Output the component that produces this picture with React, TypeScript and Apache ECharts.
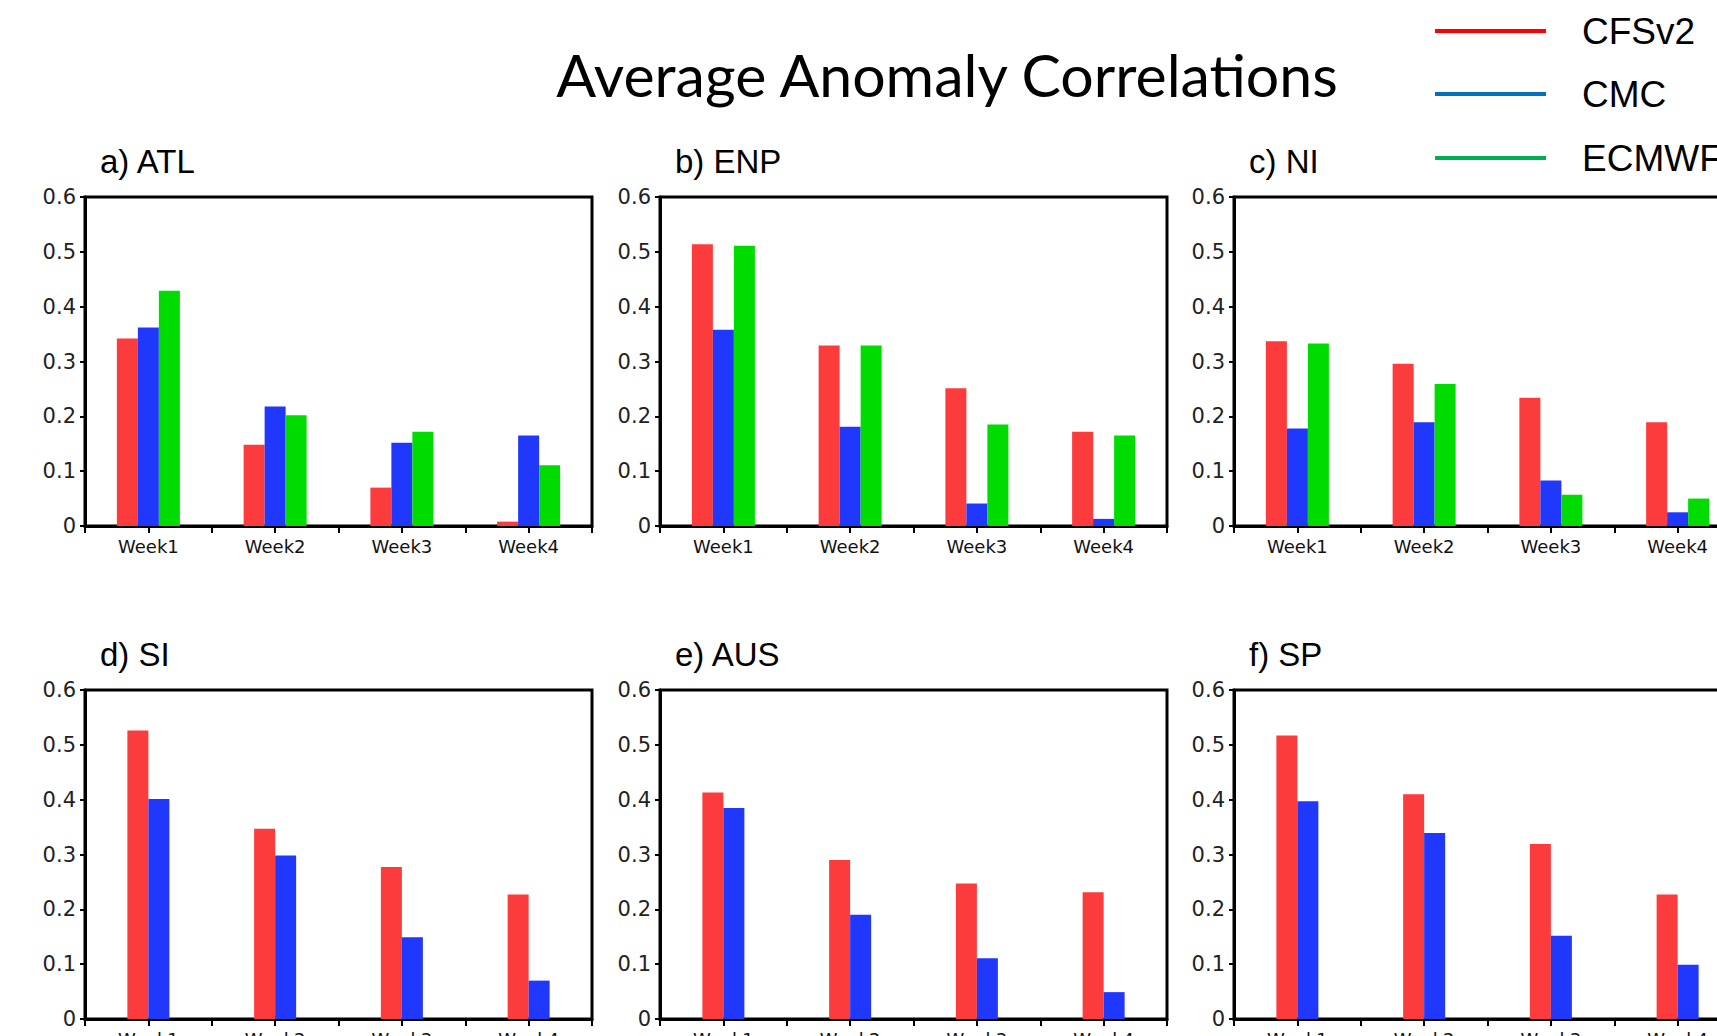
import React, { useEffect, useRef } from "react";
import * as echarts from "echarts";

const weeks = ["Week1", "Week2", "Week3", "Week4"];
const yMax = 0.6;
const yStep = 0.1;

const panelTitles = ["a) ATL", "b) ENP", "c) NI", "d) SI", "e) AUS", "f) SP"];
const modelNames = ["CFSv2", "CMC", "ECMWF"];

const atlCFSv2 = [0.342, 0.148, 0.07, 0.008];
const atlCMC = [0.362, 0.218, 0.152, 0.165];
const atlECMWF = [0.429, 0.202, 0.172, 0.111];

const enpCFSv2 = [0.514, 0.329, 0.251, 0.172];
const enpCMC = [0.358, 0.181, 0.041, 0.013];
const enpECMWF = [0.511, 0.329, 0.185, 0.165];

const niCFSv2 = [0.337, 0.296, 0.234, 0.189];
const niCMC = [0.178, 0.189, 0.083, 0.025];
const niECMWF = [0.333, 0.259, 0.057, 0.05];

const siCFSv2 = [0.526, 0.347, 0.277, 0.227];
const siCMC = [0.401, 0.298, 0.149, 0.07];

const ausCFSv2 = [0.413, 0.29, 0.247, 0.231];
const ausCMC = [0.385, 0.19, 0.111, 0.049];

const spCFSv2 = [0.517, 0.41, 0.319, 0.227];
const spCMC = [0.397, 0.339, 0.152, 0.099];

const panelData: number[][][] = [
  [atlCFSv2, atlCMC, atlECMWF],
  [enpCFSv2, enpCMC, enpECMWF],
  [niCFSv2, niCMC, niECMWF],
  [siCFSv2, siCMC],
  [ausCFSv2, ausCMC],
  [spCFSv2, spCMC],
];

const barColors = ["#fc3c3c", "#2038fc", "#00dc00"];
const legendColors = ["#ff0000", "#0070c0", "#00b050"];

const gridLefts = [85, 660, 1234];
const gridTops = [197, 690];
const gridW = 507;
const gridH = 329;

export default function App() {
  const ref = useRef<HTMLDivElement>(null);

  useEffect(() => {
    if (!ref.current) return;
    const chart = echarts.init(ref.current, null, { renderer: "svg" });

    const grids: any[] = [];
    const xAxes: any[] = [];
    const yAxes: any[] = [];
    const series: any[] = [];
    const graphics: any[] = [];

    panelData.forEach((sets, i) => {
      const col = i % 3;
      const row = Math.floor(i / 3);
      const left = gridLefts[col];
      const top = gridTops[row];
      grids.push({
        left,
        top,
        width: gridW,
        height: gridH,
        outerBoundsMode: "none",
        containLabel: false,
        show: true,
        borderColor: "#000",
        borderWidth: 3,
        backgroundColor: "transparent",
      });
      xAxes.push({
        type: "category",
        gridIndex: i,
        data: weeks,
        position: "bottom",
        axisLine: { show: true, lineStyle: { color: "#000", width: 3 } },
        axisTick: { show: false },
        axisLabel: {
          color: "#111",
          fontFamily: "DejaVu Sans",
          fontSize: 18,
          margin: 11,
        },
      });
      xAxes.push({
        type: "value",
        gridIndex: i,
        min: 0,
        max: 4,
        interval: 0.5,
        position: "bottom",
        axisLine: { show: false },
        axisTick: { show: true, length: 7, lineStyle: { color: "#000", width: 2 } },
        axisLabel: { show: false },
        splitLine: { show: false },
      });
      yAxes.push({
        type: "value",
        gridIndex: i,
        min: 0,
        max: yMax,
        interval: yStep,
        axisLine: { show: true, lineStyle: { color: "#000", width: 3 } },
        axisTick: { show: true, length: 5, lineStyle: { color: "#000", width: 2 } },
        splitLine: { show: false },
        axisLabel: {
          color: "#222",
          fontFamily: "DejaVu Sans",
          fontSize: 21,
          margin: 9,
          formatter: (v: number) => (v === 0 ? "0" : v.toFixed(1)),
        },
      });
      sets.forEach((vals, s) => {
        series.push({
          type: "bar",
          name: modelNames[s],
          xAxisIndex: i * 2,
          yAxisIndex: i,
          data: vals,
          barWidth: 21,
          barGap: "0%",
          itemStyle: { color: barColors[s] },
        });
      });
      graphics.push({
        type: "text",
        x: left + 15,
        y: top - 36,
        style: {
          text: panelTitles[i],
          font: "33px 'Liberation Sans'",
          fill: "#000",
          textAlign: "left",
          textVerticalAlign: "middle",
        },
      });
    });

    graphics.push({
      type: "text",
      x: 947,
      y: 74,
      style: {
        text: "Average Anomaly Correlations",
        font: "59px Lato",
        fill: "#000",
        textAlign: "center",
        textVerticalAlign: "middle",
      },
    });

    const legendY = [31, 94, 158];
    modelNames.forEach((name, k) => {
      graphics.push({
        type: "line",
        shape: { x1: 1435, y1: legendY[k], x2: 1546, y2: legendY[k] },
        style: { stroke: legendColors[k], lineWidth: 4 },
      });
      graphics.push({
        type: "text",
        x: 1582,
        y: legendY[k],
        style: {
          text: name,
          font: "37px 'Liberation Sans'",
          fill: "#000",
          textAlign: "left",
          textVerticalAlign: "middle",
        },
      });
    });

    chart.setOption({
      animation: false,
      backgroundColor: "#fff",
      grid: grids,
      xAxis: xAxes,
      yAxis: yAxes,
      series,
      graphic: graphics,
    });

    return () => chart.dispose();
  }, []);

  return (
    <div
      ref={ref}
      style={{ position: "absolute", left: 0, top: 0, width: 1717, height: 1036 }}
    />
  );
}
